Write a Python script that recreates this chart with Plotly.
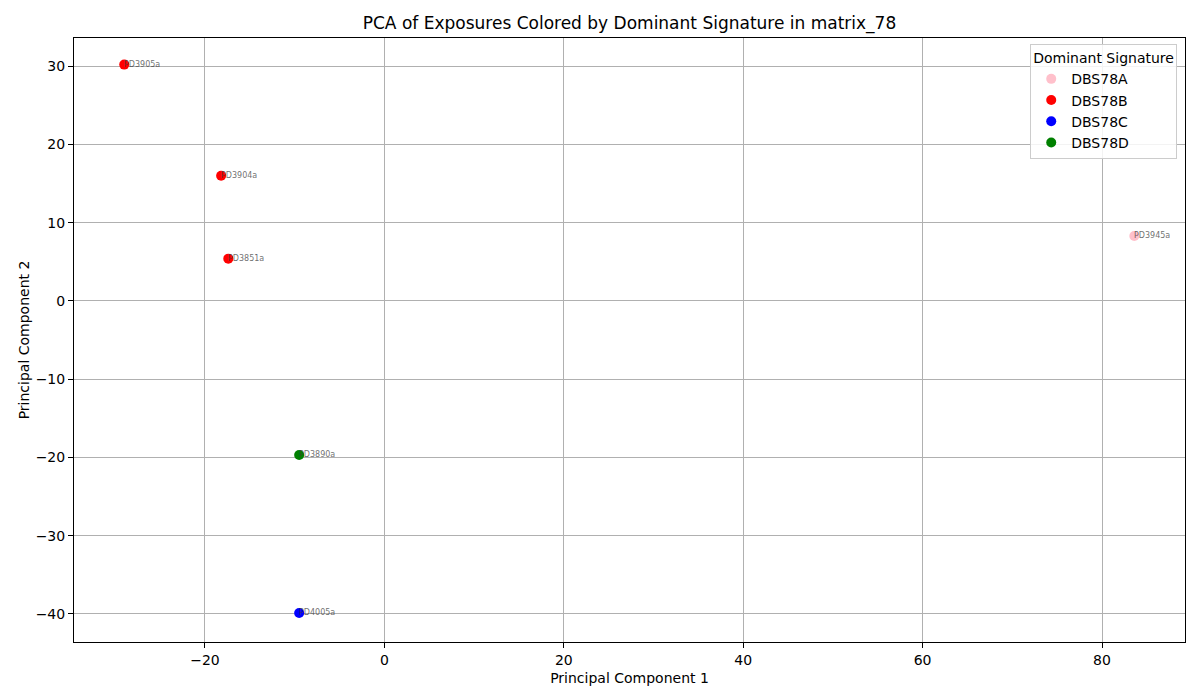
import plotly.graph_objs as go

# PCA coordinates
samples = ["PD3905a", "PD3904a", "PD3851a", "PD3890a", "PD4005a", "PD3945a"]
pc1 = [-29.0, -18.2, -17.4, -9.5, -9.5, 83.6]
pc2 = [30.2, 16.0, 5.4, -19.7, -39.9, 8.3]
dominant = ["DBS78B", "DBS78B", "DBS78B", "DBS78D", "DBS78C", "DBS78A"]

signatures = ["DBS78A", "DBS78B", "DBS78C", "DBS78D"]
sig_colors = {"DBS78A": "pink", "DBS78B": "red", "DBS78C": "blue", "DBS78D": "green"}

data = []
for sig in signatures:
    idx = [i for i, d in enumerate(dominant) if d == sig]
    data.append(go.Scatter(
        x=[pc1[i] for i in idx],
        y=[pc2[i] for i in idx],
        mode="markers",
        name=sig,
        marker=dict(color=sig_colors[sig], size=10),
    ))

# sample labels next to each point
annotations = []
for s, x, y in zip(samples, pc1, pc2):
    annotations.append(dict(
        x=x, y=y, text=s, showarrow=False,
        xanchor="left", yanchor="bottom", yshift=-6, xshift=-2,
        font=dict(size=8, color="rgba(60,60,60,0.75)"),
    ))

axis_style = dict(
    showgrid=True, gridcolor="#b0b0b0", gridwidth=1,
    zeroline=False,
    showline=True, linecolor="black", linewidth=1, mirror=True,
    ticks="outside", ticklen=5, tickcolor="black",
    tickfont=dict(size=14, color="black"),
)

# page body has an 8px margin, so the figure is a bit smaller than the window
layout = go.Layout(
    title=dict(text="PCA of Exposures Colored by Dominant Signature in matrix_78",
               xref="paper", x=0.5, xanchor="center", y=1 - 15 / 692, yanchor="middle",
               font=dict(size=17, color="black")),
    width=1192, height=692,
    margin=dict(l=66, r=15, t=30, b=58),
    paper_bgcolor="white", plot_bgcolor="white",
    font=dict(family="DejaVu Sans", color="black"),
    xaxis=dict(title=dict(text="Principal Component 1", font=dict(size=14), standoff=6),
               range=[-34.6, 89.25], tickvals=[-20, 0, 20, 40, 60, 80], **axis_style),
    yaxis=dict(title=dict(text="Principal Component 2", font=dict(size=14), standoff=2),
               range=[-43.6, 33.6], tickvals=[-40, -30, -20, -10, 0, 10, 20, 30], **axis_style),
    legend=dict(
        title=dict(text="Dominant Signature", side="top", font=dict(size=14)),
        x=0.993, xanchor="right", y=0.99, yanchor="top",
        bgcolor="rgba(255,255,255,0.85)", bordercolor="#cccccc", borderwidth=1,
        font=dict(size=14), tracegroupgap=0,
    ),
    annotations=annotations,
)

fig = go.Figure(data=data, layout=layout)
fig.write_html("out.html")
